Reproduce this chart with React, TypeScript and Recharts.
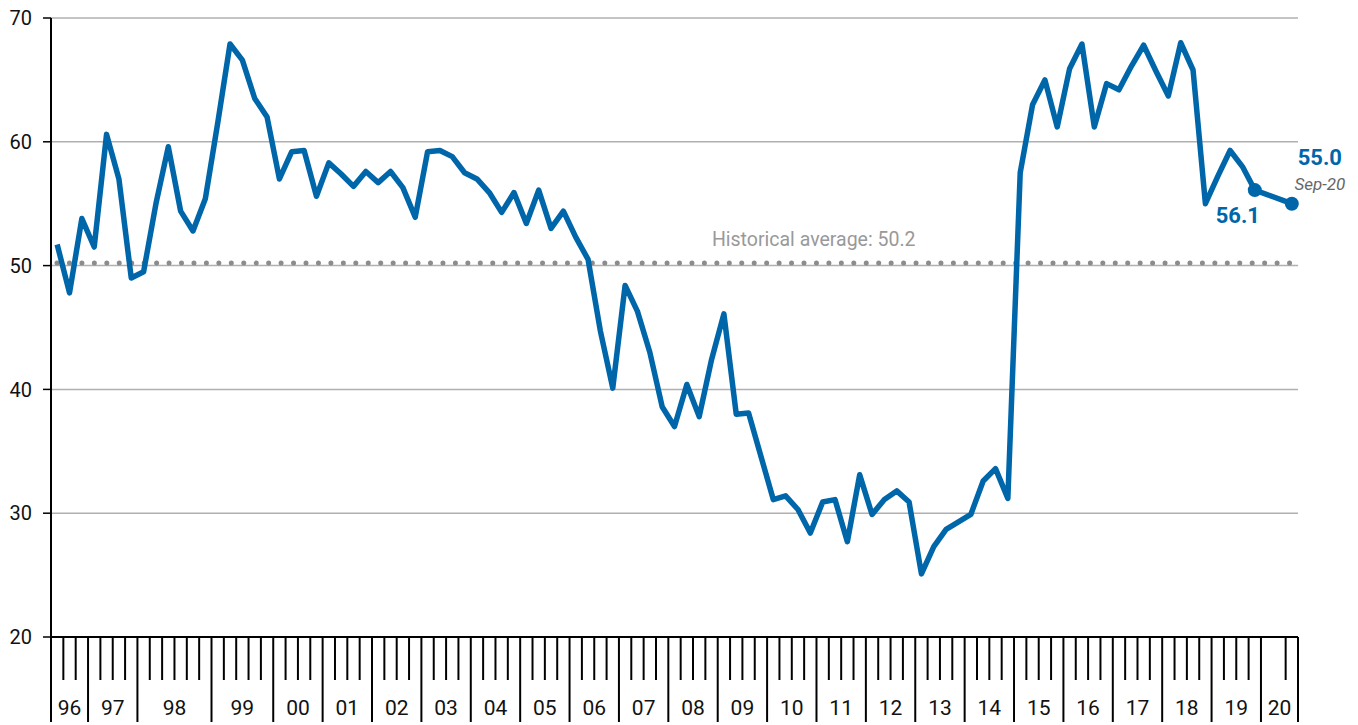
import React from "react"
import { LineChart, Line, XAxis, YAxis, CartesianGrid, ReferenceLine } from "recharts"

// year labels along the bottom and how many survey readings fall in each year
const yearLabels = ["96", "97", "98", "99", "00", "01", "02", "03", "04", "05", "06", "07", "08", "09", "10", "11", "12", "13", "14", "15", "16", "17", "18", "19", "20"]
const readingsPerYear = [3, 4, 6, 5, 4, 4, 4, 4, 4, 4, 4, 4, 4, 4, 4, 4, 4, 4, 4, 4, 4, 4, 4, 4, 3]

// index readings, oldest first (2020 Q1/Q2 not published)
const readings = [
  51.7, 47.8, 53.8,
  51.5, 60.6, 57.0, 49.0,
  49.5, 55.0, 59.6, 54.4, 52.8, 55.4,
  61.5, 67.9, 66.6, 63.5, 62.0,
  57.0, 59.2, 59.3, 55.6,
  58.3, 57.4, 56.4, 57.6,
  56.7, 57.6, 56.3, 53.9,
  59.2, 59.3, 58.8, 57.5,
  57.0, 55.9, 54.3, 55.9,
  53.4, 56.1, 53.0, 54.4,
  52.3, 50.5, 44.7, 40.1,
  48.4, 46.3, 43.0, 38.6,
  37.0, 40.4, 37.8, 42.4,
  46.1, 38.0, 38.1, 34.6,
  31.1, 31.4, 30.3, 28.4,
  30.9, 31.1, 27.7, 33.1,
  29.9, 31.1, 31.8, 30.9,
  25.1, 27.3, 28.7, 29.3,
  29.9, 32.6, 33.6, 31.2,
  57.5, 63.0, 65.0, 61.2,
  65.9, 67.9, 61.2, 64.7,
  64.2, 66.1, 67.8, 65.7,
  63.7, 68.0, 65.8, 55.0,
  57.2, 59.3, 58.0, 56.1,
  null, null, 55.0,
]

const historicalAverage = 50.2
const lastPeriodLabel = "Sep-20"
const yTicks = [20, 30, 40, 50, 60, 70]
const hiddenTicks = [99]

const blue = "#0066aa"
const font = "Roboto, 'Open Sans', sans-serif"

const data = readings.map((v, i) => ({ pos: i + 0.5, value: v }))
const total = readings.length

const yearStarts: number[] = []
const yearMids: Record<string, string> = {}
let acc = 0
readingsPerYear.forEach((n, k) => {
  yearStarts.push(acc)
  yearMids[String(acc + n / 2)] = yearLabels[k]
  acc += n
})
yearStarts.push(acc)

const boundaryTicks: number[] = []
for (let i = 0; i <= total; i++) if (!hiddenTicks.includes(i)) boundaryTicks.push(i)
const xTicks = Array.from(new Set([...boundaryTicks, ...Object.keys(yearMids).map(Number)])).sort((a, b) => a - b)

const QuarterTick = (props: any) => {
  const { x, y, payload } = props
  const v = payload.value
  const isBoundary = boundaryTicks.includes(v)
  const isYearStart = yearStarts.includes(v)
  const label = yearMids[String(v)]
  return (
    <g>
      {isBoundary && (
        <line x1={x} x2={x} y1={y} y2={y + (isYearStart ? 85 : 43)} stroke="#000" strokeWidth={2} />
      )}
      {label && (
        <text x={x} y={y + 71} textAnchor="middle" dominantBaseline="central" fontSize={21} fontFamily={font} fill="#111">
          {label}
        </text>
      )}
    </g>
  )
}

const lastIndex = total - 1
const prevIndex = readings.slice(0, lastIndex).map((v, i) => (v == null ? -1 : i)).reduce((a, b) => Math.max(a, b), -1)

const AnnotatedDot = (props: any) => {
  const { cx, cy, index, value } = props
  if (cy == null || (index !== lastIndex && index !== prevIndex)) return <g key={`d${index}`} />
  return (
    <g key={`d${index}`}>
      <circle cx={cx} cy={cy} r={7} fill={blue} />
      {index === lastIndex ? (
        <>
          <text x={cx + 28} y={cy - 46} textAnchor="middle" dominantBaseline="central" fontSize={22} fontWeight="bold" fontFamily={font} fill={blue}>
            {Number(value).toFixed(1)}
          </text>
          <text x={cx + 28} y={cy - 20} textAnchor="middle" dominantBaseline="central" fontSize={17} fontStyle="italic" fontFamily={font} fill="#666">
            {lastPeriodLabel}
          </text>
        </>
      ) : (
        <text x={cx - 17} y={cy + 25} textAnchor="middle" dominantBaseline="central" fontSize={22} fontWeight="bold" fontFamily={font} fill={blue}>
          {Number(value).toFixed(1)}
        </text>
      )}
    </g>
  )
}

export default function App() {
  return (
    <div style={{ position: "absolute", left: 0, top: 0, background: "#fff" }}>
      <LineChart width={1358} height={725} data={data} margin={{ top: 18, right: 60, left: 0, bottom: 0 }}>
        <CartesianGrid vertical={false} stroke="#b0b0b0" strokeWidth={1.5} />
        <XAxis
          dataKey="pos"
          type="number"
          domain={[0, total]}
          ticks={xTicks}
          interval={0}
          height={88}
          tickSize={0}
          tickMargin={0}
          tick={<QuarterTick />}
          axisLine={{ stroke: "#000", strokeWidth: 2 }}
        />
        <YAxis
          domain={[20, 70]}
          ticks={yTicks}
          width={51}
          tickSize={8}
          tickMargin={11}
          tickLine={{ stroke: "#000", strokeWidth: 1.5 }}
          axisLine={{ stroke: "#000", strokeWidth: 2 }}
          tick={{ fontSize: 20, fontFamily: font, fill: "#111" }}
          interval={0}
        />
        <ReferenceLine
          y={historicalAverage}
          stroke="#8c8c8c"
          strokeWidth={5}
          strokeLinecap="round"
          strokeDasharray="0 12.45"
          strokeDashoffset={6.45}
          label={(p: any) => (
            <text x={p.viewBox.x + p.viewBox.width * 0.53} y={p.viewBox.y - 24} dominantBaseline="central" fontSize={19.5} fontFamily={font} fill="#999">
              {`Historical average: ${historicalAverage}`}
            </text>
          )}
        />
        <Line
          type="linear"
          dataKey="value"
          stroke={blue}
          strokeWidth={5.5}
          strokeLinejoin="round"
          connectNulls
          dot={(p: any) => <AnnotatedDot {...p} key={`d${p.index}`} />}
          activeDot={false}
          isAnimationActive={false}
        />
      </LineChart>
    </div>
  )
}
